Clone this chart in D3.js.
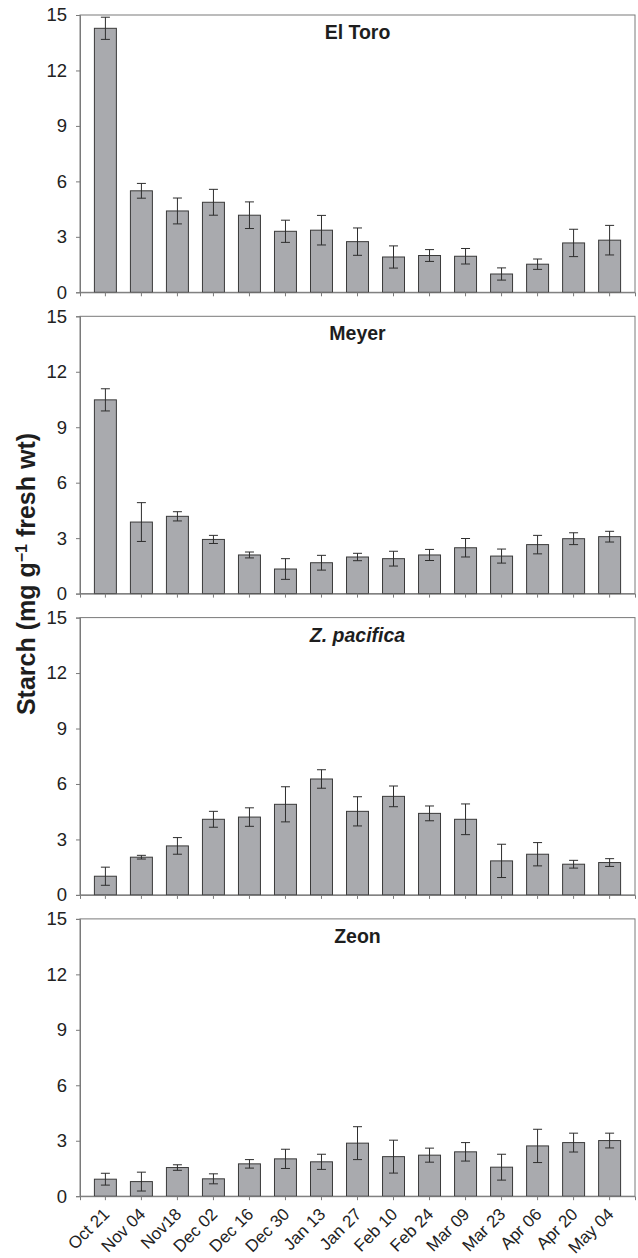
<!DOCTYPE html>
<html>
<head>
<meta charset="utf-8">
<script src="https://cdn.jsdelivr.net/npm/d3@7/dist/d3.min.js"></script>
<style>
  html, body { margin: 0; padding: 0; background: #fff; }
  svg { display: block; }
</style>
</head>
<body>
<svg id="chart" width="638" height="1258"></svg>
<script>
// ---- data ----
const categories = ["Oct 21","Nov 04","Nov18","Dec 02","Dec 16","Dec 30","Jan 13","Jan 27","Feb 10","Feb 24","Mar 09","Mar 23","Apr 06","Apr 20","May 04"];
const panelTitles = ["El Toro","Meyer","Z. pacifica","Zeon"];
const yTicks = [0,3,6,9,12,15];

const elToro     = [14.28,5.49,4.40,4.87,4.17,3.30,3.36,2.74,1.91,1.99,1.95,0.99,1.52,2.67,2.82];
const elToroErr  = [0.60,0.40,0.70,0.70,0.72,0.60,0.80,0.74,0.60,0.32,0.42,0.33,0.28,0.74,0.80];
const meyer      = [10.48,3.87,4.18,2.93,2.09,1.33,1.67,1.98,1.89,2.09,2.48,2.03,2.65,2.97,3.08];
const meyerErr   = [0.60,1.05,0.25,0.22,0.16,0.56,0.40,0.20,0.40,0.30,0.50,0.38,0.50,0.32,0.29];
const pacifica   = [1.01,2.04,2.65,4.09,4.21,4.90,6.27,4.52,5.33,4.41,4.09,1.84,2.20,1.66,1.75];
const pacificaErr= [0.49,0.10,0.45,0.43,0.50,0.95,0.50,0.79,0.56,0.40,0.83,0.90,0.63,0.21,0.21];
const zeon       = [0.92,0.79,1.55,0.94,1.75,2.02,1.86,2.87,2.14,2.22,2.40,1.57,2.72,2.90,3.01];
const zeonErr    = [0.32,0.51,0.15,0.27,0.23,0.52,0.41,0.89,0.89,0.38,0.50,0.70,0.90,0.51,0.40];

const seriesValues = [elToro, meyer, pacifica, zeon];
const seriesErrors = [elToroErr, meyerErr, pacificaErr, zeonErr];

// ---- layout ----
const svg = d3.select("#chart");
const left = 80, right = 635;
const firstTop = 15, panelH = 277.3, panelStep = 301.3;
const axisColor = "#7a7a7a";
const font = "'Liberation Sans', Arial, Helvetica, sans-serif";

const x = d3.scaleBand()
  .domain(categories)
  .range([left, right])
  .paddingInner(0.39)
  .paddingOuter(0.4);

panelTitles.forEach((title, i) => {
  const top = firstTop + i * panelStep;
  const bottom = top + panelH;
  const y = d3.scaleLinear().domain([0, 15]).range([bottom, top]);
  const g = svg.append("g");

  // frame
  g.append("rect")
    .attr("x", left).attr("y", top)
    .attr("width", right - left).attr("height", panelH)
    .attr("fill", "none").attr("stroke", axisColor).attr("stroke-width", 1);

  const vals = seriesValues[i], errs = seriesErrors[i];
  const data = categories.map((c, k) => ({c, v: vals[k], e: errs[k]}));

  // bars
  g.selectAll("rect.bar").data(data).enter().append("rect")
    .attr("class", "bar")
    .attr("x", d => x(d.c))
    .attr("y", d => y(d.v))
    .attr("width", x.bandwidth())
    .attr("height", d => y(0) - y(d.v))
    .attr("fill", "#a9aaae")
    .attr("stroke", "#3a3a3a")
    .attr("stroke-width", 1);

  // error bars
  const capW = 4.5;
  const eb = g.selectAll("g.err").data(data).enter().append("g")
    .attr("class", "err")
    .attr("stroke", "#2e2e2e").attr("stroke-width", 1);
  eb.append("line")
    .attr("x1", d => x(d.c) + x.bandwidth() / 2).attr("x2", d => x(d.c) + x.bandwidth() / 2)
    .attr("y1", d => y(d.v - d.e)).attr("y2", d => y(d.v + d.e));
  eb.append("line")
    .attr("x1", d => x(d.c) + x.bandwidth() / 2 - capW).attr("x2", d => x(d.c) + x.bandwidth() / 2 + capW)
    .attr("y1", d => y(d.v + d.e)).attr("y2", d => y(d.v + d.e));
  eb.append("line")
    .attr("x1", d => x(d.c) + x.bandwidth() / 2 - capW).attr("x2", d => x(d.c) + x.bandwidth() / 2 + capW)
    .attr("y1", d => y(d.v - d.e)).attr("y2", d => y(d.v - d.e));

  // y axis
  const ya = g.append("g")
    .attr("transform", `translate(${left},0)`)
    .call(d3.axisLeft(y).tickValues(yTicks).tickSize(4).tickPadding(9));
  ya.select(".domain").attr("stroke", axisColor);
  ya.selectAll(".tick line").attr("stroke", axisColor);
  ya.selectAll(".tick text")
    .attr("fill", "#222").style("font-family", font).style("font-size", "18.5px");

  // x axis (ticks centred under bars)
  const xa = g.append("g")
    .attr("transform", `translate(0,${bottom})`)
    .call(d3.axisBottom(x).tickSize(4).tickFormat(i === panelTitles.length - 1 ? (d => d) : () => ""));
  xa.select(".domain").attr("stroke", axisColor);
  xa.selectAll(".tick line").attr("stroke", axisColor);
  if (i === panelTitles.length - 1) {
    xa.selectAll(".tick text")
      .attr("fill", "#222")
      .style("font-family", font).style("font-size", "17px")
      .attr("text-anchor", "end")
      .attr("dy", null)
      .attr("y", null)
      .attr("transform", "translate(5,19) rotate(-45)");
  }

  // title
  const t = g.append("text")
    .attr("x", (left + right) / 2)
    .attr("y", top + 24)
    .attr("text-anchor", "middle")
    .attr("fill", "#1e1e1e")
    .style("font-family", font)
    .style("font-weight", "bold")
    .style("font-size", "19.5px")
    .text(title);
  if (title === "Z. pacifica") t.style("font-style", "italic");
});

// y axis label
const yl = svg.append("text")
  .attr("transform", "translate(35,574) rotate(-90)")
  .attr("text-anchor", "middle")
  .attr("fill", "#1e1e1e")
  .style("font-family", font)
  .style("font-weight", "bold")
  .style("font-size", "25px");
yl.append("tspan").text("Starch (mg g");
yl.append("tspan").attr("baseline-shift", "super").style("font-size", "16px").text("−1");
yl.append("tspan").text(" fresh wt)");
</script>
</body>
</html>
